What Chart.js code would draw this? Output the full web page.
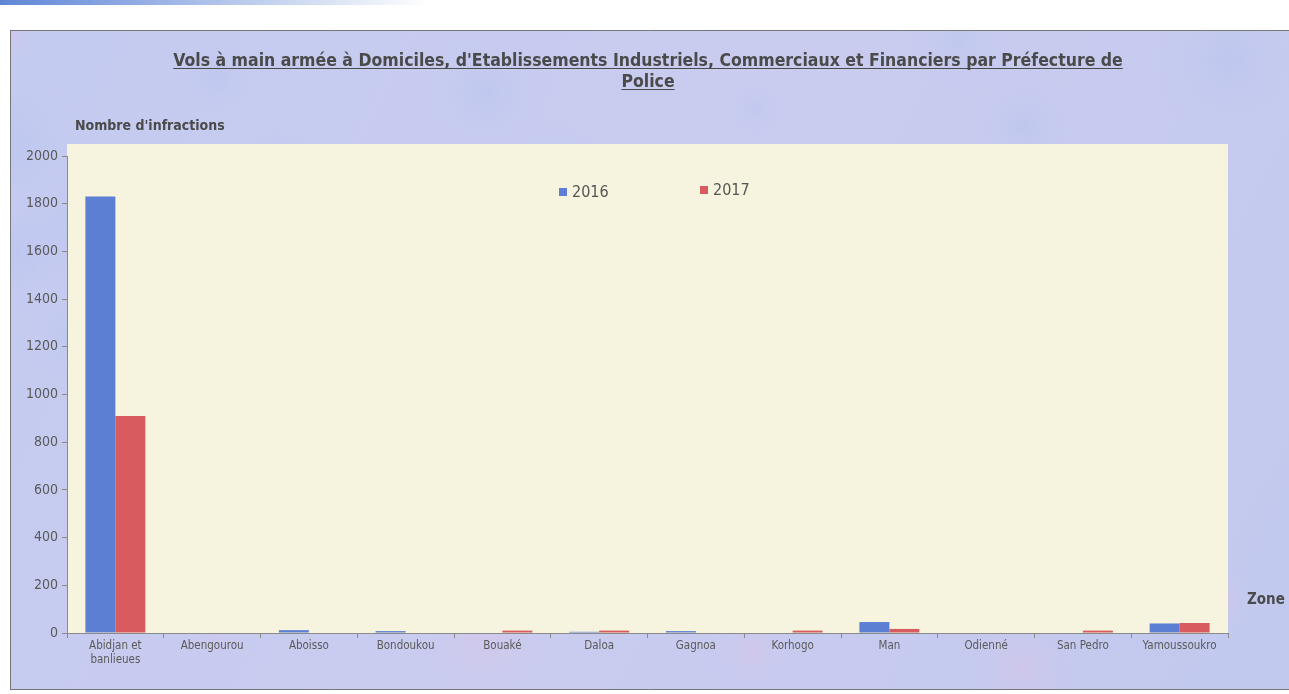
<!DOCTYPE html>
<html lang="fr">
<head>
<meta charset="utf-8">
<title>Vols à main armée par Préfecture de Police</title>
<script src="https://cdn.jsdelivr.net/npm/chart.js@4.4.1/dist/chart.umd.min.js"></script>
<style>
  html, body { margin: 0; padding: 0; background: #ffffff; }
  #wrap { position: relative; width: 1289px; height: 694px; }
</style>
</head>
<body>
<div id="wrap"><canvas id="chart" width="1289" height="694"></canvas></div>
<script>
// zones (x axis)
const zones = [
  ["Abidjan et", "banlieues"], "Abengourou", "Aboisso", "Bondoukou", "Bouaké",
  "Daloa", "Gagnoa", "Korhogo", "Man", "Odienné", "San Pedro", "Yamoussoukro"
];

// number of offences per zone
const values2016 = [1830, 0, 12, 8, 0, 5, 8, 0, 46, 0, 0, 40];
const values2017 = [910, 0, 0, 0, 10, 10, 0, 10, 17, 0, 10, 42];

const yTicks = [0, 200, 400, 600, 800, 1000, 1200, 1400, 1600, 1800, 2000];

const titleLines = [
  "Vols à main armée à Domiciles, d'Etablissements Industriels, Commerciaux et Financiers par Préfecture de",
  "Police"
];

const BLUE = "#5c7fd4";
const RED = "#d75b5f";
const FONT = "'Liberation Sans Narrow', 'DejaVu Sans Condensed', 'Open Sans', sans-serif";

// frame background, plot area, title, axis titles, legend
const decor = {
  id: "decor",
  beforeDraw(chart) {
    const { ctx, chartArea: a } = chart;
    ctx.save();
    // thin blue band top-left
    const band = ctx.createLinearGradient(0, 0, 430, 0);
    band.addColorStop(0, "#5f86d6");
    band.addColorStop(1, "rgba(95,134,214,0)");
    ctx.fillStyle = band;
    ctx.fillRect(0, 0, 430, 5);

    // lavender frame
    ctx.beginPath();
    ctx.rect(10, 30, 1290, 660);
    ctx.clip();
    const g = ctx.createLinearGradient(0, 30, 1289, 690);
    g.addColorStop(0, "#c4cbf0");
    g.addColorStop(0.5, "#c9ccef");
    g.addColorStop(1, "#c2c9ee");
    ctx.fillStyle = g;
    ctx.fillRect(10, 30, 1290, 660);
    // soft mottling
    for (let i = 0; i < 40; i++) {
      const x = 10 + ((i * 337) % 1280);
      const y = 35 + ((i * 211) % 650);
      const r = 30 + (i % 5) * 12;
      const rg = ctx.createRadialGradient(x, y, 0, x, y, r);
      const c = i % 3 === 0 ? "rgba(230,190,225,0.3)" : "rgba(175,190,240,0.3)";
      rg.addColorStop(0, c);
      rg.addColorStop(1, "rgba(200,200,240,0)");
      ctx.fillStyle = rg;
      ctx.fillRect(x - r, y - r, r * 2, r * 2);
    }
    ctx.strokeStyle = "#777";
    ctx.lineWidth = 1;
    ctx.beginPath();
    ctx.moveTo(10, 30.5); ctx.lineTo(1289, 30.5);
    ctx.moveTo(10.5, 30); ctx.lineTo(10.5, 690);
    ctx.moveTo(10, 689.5); ctx.lineTo(1289, 689.5);
    ctx.stroke();

    // plot area (yellow starts a bit above the 2000 tick)
    ctx.fillStyle = "#f6f4de";
    ctx.fillRect(a.left, a.top - 12, a.right - a.left, a.bottom - a.top + 12);
    ctx.restore();
  },
  afterDraw(chart) {
    const { ctx } = chart;
    ctx.save();
    // title, underlined
    ctx.fillStyle = "#4a4a4a";
    ctx.strokeStyle = "#4a4a4a";
    ctx.font = "bold 17.5px " + FONT;
    ctx.textAlign = "center";
    ctx.textBaseline = "alphabetic";
    titleLines.forEach((t, i) => {
      const y = 66 + i * 21;
      ctx.fillText(t, 648, y);
      const w = ctx.measureText(t).width;
      ctx.lineWidth = 1;
      ctx.beginPath();
      ctx.moveTo(648 - w / 2, y + 2.5);
      ctx.lineTo(648 + w / 2, y + 2.5);
      ctx.stroke();
    });

    // axis titles
    ctx.textAlign = "left";
    ctx.font = "bold 14px " + FONT;
    ctx.fillText("Nombre d'infractions", 75, 130);
    ctx.font = "bold 15px " + FONT;
    ctx.fillText("Zone", 1247, 604);

    // legend
    ctx.font = "16px " + FONT;
    ctx.textBaseline = "middle";
    const items = [[559, 192], [700, 190]];
    chart.data.datasets.forEach((ds, i) => {
      const [x, y] = items[i];
      ctx.fillStyle = ds.backgroundColor;
      ctx.fillRect(x, y - 4, 8, 8);
      ctx.fillStyle = "#555";
      ctx.fillText(ds.label, x + 13, y + 1);
    });
    ctx.restore();
  }
};

new Chart(document.getElementById("chart"), {
  type: "bar",
  data: {
    labels: zones,
    datasets: [
      { label: "2016", data: values2016, backgroundColor: BLUE },
      { label: "2017", data: values2017, backgroundColor: RED }
    ]
  },
  options: {
    responsive: false,
    animation: false,
    layout: { padding: { left: 10, top: 156, right: 61, bottom: 0 } },
    datasets: { bar: { categoryPercentage: 0.62, barPercentage: 1 } },
    plugins: {
      legend: { display: false },
      title: { display: false },
      tooltip: { enabled: false }
    },
    scales: {
      x: {
        afterFit(s) { s.height = 61; },
        grid: { offset: true, drawOnChartArea: false, tickLength: 5, color: "#8a8a8a" },
        border: { color: "#8a8a8a" },
        ticks: {
          color: "#5a5a5a",
          font: { family: FONT, size: 11.5 },
          padding: 1,
          maxRotation: 0,
          autoSkip: false
        }
      },
      y: {
        min: 0,
        max: 2000,
        afterFit(s) { s.width = 57; },
        afterBuildTicks(s) { s.ticks = yTicks.map(v => ({ value: v })); },
        grid: { drawOnChartArea: false, tickLength: 5, color: "#8a8a8a" },
        border: { color: "#8a8a8a" },
        ticks: {
          color: "#5a5a5a",
          font: { family: FONT, size: 14 },
          padding: 4,
          callback: v => String(v)
        }
      }
    }
  },
  plugins: [decor]
});
</script>
</body>
</html>
